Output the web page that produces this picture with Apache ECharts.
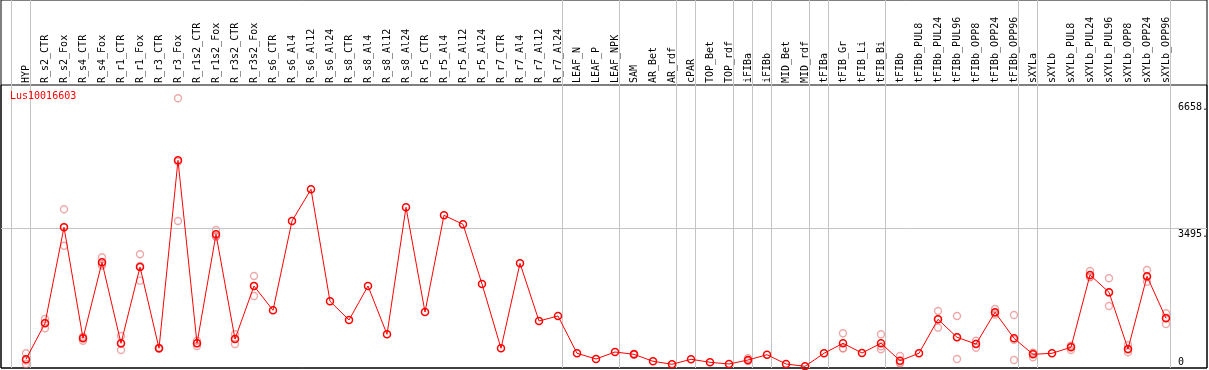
<!DOCTYPE html>
<html>
<head>
<meta charset="utf-8">
<script src="https://cdn.jsdelivr.net/npm/echarts@6/dist/echarts.min.js"></script>
<style>
html, body { margin: 0; padding: 0; background: #fff; }
#expr-chart-1 { width: 1209px; height: 370px; }
</style>
</head>
<body>
<div id="expr-chart-1"></div>
<script>
// Kategoriler (örnekler)
const categories = [
    'HYP', 'R_s2_CTR', 'R_s2_Fox', 'R_s4_CTR', 'R_s4_Fox', 'R_r1_CTR', 'R_r1_Fox', 'R_r3_CTR', 'R_r3_Fox',
    'R_r1s2_CTR', 'R_r1s2_Fox', 'R_r3s2_CTR', 'R_r3s2_Fox', 'R_s6_CTR', 'R_s6_Al4', 'R_s6_Al12', 'R_s6_Al24',
    'R_s8_CTR', 'R_s8_Al4', 'R_s8_Al12', 'R_s8_Al24', 'R_r5_CTR', 'R_r5_Al4', 'R_r5_Al12', 'R_r5_Al24',
    'R_r7_CTR', 'R_r7_Al4', 'R_r7_Al12', 'R_r7_Al24', 'LEAF_N', 'LEAF_P', 'LEAF_NPK', 'SAM', 'AR_Bet', 'AR_rdf',
    'cPAR', 'TOP_Bet', 'TOP_rdf', 'iFIBa', 'iFIBb', 'MID_Bet', 'MID_rdf', 'tFIBa', 'tFIB_Gr', 'tFIB_Li', 'tFIB_Bi',
    'tFIBb', 'tFIBb_PUL8', 'tFIBb_PUL24', 'tFIBb_PUL96', 'tFIBb_OPP8', 'tFIBb_OPP24', 'tFIBb_OPP96',
    'sXYLa', 'sXYLb', 'sXYLb_PUL8', 'sXYLb_PUL24', 'sXYLb_PUL96', 'sXYLb_OPP8', 'sXYLb_OPP24', 'sXYLb_OPP96'
];

// Ortalama değerler
const means = [
    218, 1118, 3520, 743, 2644, 618, 2527, 493, 5196,
    618, 3345, 725, 2051, 1443, 3678, 4471, 1669,
    1201, 2051, 843, 4020, 1401, 3820, 3595, 2102,
    493, 2619, 1176, 1301, 368, 225, 400, 342, 168, 93,
    218, 143, 100, 200, 333, 100, 42, 368, 618, 375, 618,
    183, 368, 1218, 768, 600, 1393, 743,
    342, 368, 518, 2327, 1894, 475, 2294, 1243
];

// Tekrarlar (soluk daireler)
const replicates = [
    [368, 100, 186], [1226, 993, 1135], [3970, 3060, 3530], [783, 683, 763], [2769, 2560, 2600],
    [800, 450, 604], [2844, 2185, 2550], [480, 500, 500], [6747, 3678, 5163],
    [683, 550, 620], [3452, 3285, 3300], [843, 600, 730], [2302, 1801, 2050],
    [], [], [], [], [], [], [], [], [], [], [], [], [], [], [], [], [], [], [],
    [360, 330, 336], [], [], [], [], [], [243, 180, 177], [], [], [], [],
    [868, 493, 493], [], [843, 468, 543],
    [300, 117, 133], [], [1426, 1009, 1218], [1301, 225, 778], [683, 508, 610], [1476, 1368, 1335], [1326, 200, 703],
    [268, 380, 378], [], [450, 550, 555], [2427, 2269, 2285], [2244, 1551, 1887], [575, 393, 457], [2452, 2159, 2271], [1368, 1101, 1260]
];

// Grup sonları (gri dikey çizgiler)
const groupEnds = [-1, 0, 28, 31, 34, 35, 37, 38, 39, 41, 42, 45, 52, 53, 60];
const yTicks = [0, 3495, 6658];
const geneName = 'Lus10016603';

const FONT = '"DejaVu Sans Mono", monospace';
const X_MIN = -25 / 19, X_MAX = (1207 - 26) / 19;
const Y_MAX = 7080;

const meanData = means.map((v, i) => [i, v]);
const repData = [];
replicates.forEach((arr, i) => arr.forEach(v => repData.push([i, v])));

const chart = echarts.init(document.getElementById('expr-chart-1'));

chart.setOption({
    animation: false,
    backgroundColor: '#fff',
    grid: [
        { left: 1, right: 2, top: 85, bottom: 2, show: true, borderColor: '#000', borderWidth: 1 },
        { left: 16.5, width: 1159, top: 85, bottom: 2 },
        { left: 1, right: 2, top: 0, bottom: 2, show: true, borderColor: '#000', borderWidth: 1 }
    ],
    xAxis: [
        { type: 'value', gridIndex: 0, min: X_MIN, max: X_MAX, show: false },
        {
            type: 'category', gridIndex: 1, data: categories, position: 'top', boundaryGap: true,
            axisLine: { show: false }, axisTick: { show: false }, splitLine: { show: false },
            axisLabel: { interval: 0, rotate: 90, margin: 2, color: '#000', fontFamily: FONT, fontSize: 10 }
        },
        { type: 'value', gridIndex: 2, min: X_MIN, max: X_MAX, show: false }
    ],
    yAxis: [
        { type: 'value', gridIndex: 0, min: 0, max: Y_MAX, show: false },
        { type: 'value', gridIndex: 1, min: 0, max: Y_MAX, show: false },
        { type: 'value', gridIndex: 2, min: 0, max: 1, show: false }
    ],
    series: [
        {
            type: 'line', xAxisIndex: 2, yAxisIndex: 2, data: [], silent: true,
            markLine: {
                silent: true, symbol: 'none', label: { show: false },
                lineStyle: { color: '#c4c4c4', type: 'solid', width: 1 },
                emphasis: { disabled: true },
                data: groupEnds.map(i => ({ xAxis: i + 0.23 }))
            }
        },
        {
            type: 'scatter', xAxisIndex: 0, yAxisIndex: 0, data: repData,
            symbol: 'circle', symbolSize: 7, silent: true,
            itemStyle: { color: 'transparent', borderColor: 'rgba(232,128,128,0.85)', borderWidth: 1.4 }
        },
        {
            type: 'line', xAxisIndex: 0, yAxisIndex: 0, data: meanData,
            symbol: 'circle', symbolSize: 7, silent: true,
            itemStyle: { color: 'transparent', borderColor: '#ff0000', borderWidth: 1.5 },
            lineStyle: { color: '#ff0000', width: 1 },
            markLine: {
                silent: true, symbol: 'none', label: { show: false },
                lineStyle: { color: '#c4c4c4', type: 'solid', width: 1 },
                emphasis: { disabled: true },
                data: [{ yAxis: yTicks[1] }]
            },
            z: 5
        }
    ]
});

// Y eksen etiketleri (veri ölçeğinden)
const labels = yTicks.map(v => {
    const p = chart.convertToPixel({ gridIndex: 0 }, [0, v]);
    return {
        type: 'text', left: 1178, top: v === 0 ? p[1] - 11 : p[1] + 1, z: 100,
        style: { text: v === 0 ? '0' : v + '.', font: '10px ' + FONT, fill: '#000' }
    };
});
labels.push({
    type: 'text', left: 10, top: 91, z: 100,
    style: { text: geneName, font: '10px ' + FONT, fill: '#ff0000' }
});
chart.setOption({ graphic: labels });
</script>
</body>
</html>
